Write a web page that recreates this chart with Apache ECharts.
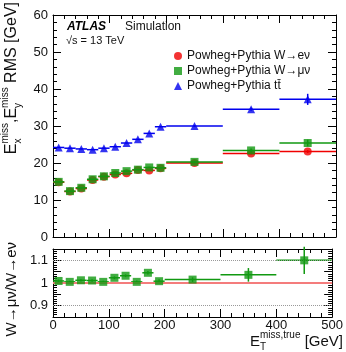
<!DOCTYPE html>
<html>
<head>
<meta charset="utf-8">
<script src="https://cdn.jsdelivr.net/npm/echarts@6/dist/echarts.min.js"></script>
<style>
html, body { margin: 0; padding: 0; background: #fff; }
#chart { width: 346px; height: 352px; }
</style>
</head>
<body>
<div id="chart"></div>
<script>
// bins in E_T^miss,true [GeV]
const binLow = [0, 20, 40, 60, 80, 100, 120, 140, 160, 180, 200, 300, 400];
const binHigh = [20, 40, 60, 80, 100, 120, 140, 160, 180, 200, 300, 400, 500];
const binCenter = [10, 30, 50, 70, 90, 110, 130, 150, 170, 190, 250, 350, 450];

// RMS values [GeV]
const rmsWenu = [14.8, 12.3, 13.1, 15.4, 16.3, 16.9, 17.2, 18.1, 18.0, 18.55, 20.0, 22.6, 23.1];
const errWenu = [0.1, 0.1, 0.1, 0.1, 0.1, 0.1, 0.1, 0.1, 0.15, 0.15, 0.15, 0.3, 0.4];
const rmsWmunu = [14.9, 12.4, 13.3, 15.6, 16.4, 17.3, 17.8, 18.2, 18.8, 18.7, 20.3, 23.4, 25.4];
const errWmunu = [0.1, 0.1, 0.1, 0.1, 0.1, 0.1, 0.1, 0.1, 0.15, 0.15, 0.2, 0.5, 0.9];
const rmsTtbar = [24.2, 24.0, 23.8, 23.6, 24.0, 24.4, 25.4, 26.4, 28.0, 29.8, 30.0, 34.5, 37.2];
const errTtbar = [0.1, 0.1, 0.1, 0.1, 0.1, 0.1, 0.1, 0.1, 0.1, 0.1, 0.2, 0.4, 1.5];

// ratio W->munu / W->enu
const ratio = [1.009, 1.005, 1.012, 1.011, 1.005, 1.023, 1.032, 1.005, 1.045, 1.008, 1.015, 1.036, 1.100];
const ratioErr = [0.006, 0.005, 0.005, 0.005, 0.005, 0.006, 0.006, 0.006, 0.008, 0.008, 0.01, 0.03, 0.06];

// axes
const xTicks = [0, 100, 200, 300, 400, 500];
const yTicks = [0, 10, 20, 30, 40, 50, 60];
const ratioTicks = [0.9, 1, 1.1];

const names = ['Powheg+Pythia W\u2192e\u03bd', 'Powheg+Pythia W\u2192\u03bc\u03bd', 'Powheg+Pythia t\u0074\u0304'];
const RED = '#f00000', GREEN = '#119911', BLUE = '#0000ee';
const FONT = '"Liberation Sans", Arial, Helvetica, sans-serif';

const chart = echarts.init(document.getElementById('chart'));

const measure = document.createElement('canvas').getContext('2d');
function textW(s, size, weight) {
  measure.font = (weight || 'normal') + ' ' + size + 'px ' + FONT;
  return measure.measureText(s).width;
}

function errRows(vals, errs) {
  return vals.map((v, i) => [binLow[i], binHigh[i], v, binCenter[i], errs[i]]);
}

function errRender(color, width) {
  return function (params, api) {
    const a = api.coord([api.value(0), api.value(2)]);
    const b = api.coord([api.value(1), api.value(2)]);
    const c = api.coord([api.value(3), api.value(2) - api.value(4)]);
    const d = api.coord([api.value(3), api.value(2) + api.value(4)]);
    return {
      type: 'group',
      children: [
        { type: 'line', shape: { x1: a[0], y1: a[1], x2: b[0], y2: b[1] }, style: { stroke: color, lineWidth: width } },
        { type: 'line', shape: { x1: c[0], y1: c[1], x2: d[0], y2: d[1] }, style: { stroke: color, lineWidth: width } }
      ]
    };
  };
}

function pts(vals) {
  return vals.map((v, i) => [binCenter[i], v]);
}

function xAxisDef(grid, pos, labels) {
  return {
    type: 'value', gridIndex: grid, position: pos, min: 0, max: 500, interval: 100,
    axisLine: { show: true, onZero: false, lineStyle: { color: '#000', width: 1 } },
    axisTick: { show: true, inside: true, length: 8, lineStyle: { color: '#000' } },
    minorTick: { show: true, splitNumber: 5, length: 4, lineStyle: { color: '#000' } },
    axisLabel: { show: labels, color: '#111', fontSize: 13, fontFamily: FONT, margin: 2,
      customValues: xTicks },
    splitLine: { show: false }
  };
}

function yAxisDef(grid, pos, labels, min, max, interval, minorSplit, tickVals) {
  return {
    type: 'value', gridIndex: grid, position: pos, min: min, max: max, interval: interval,
    axisLine: { show: true, onZero: false, lineStyle: { color: '#000', width: 1 } },
    axisTick: { show: true, inside: true, length: 8, lineStyle: { color: '#000' } },
    minorTick: { show: true, splitNumber: minorSplit, length: 4, lineStyle: { color: '#000' } },
    axisLabel: { show: labels, color: '#111', fontSize: 13, fontFamily: FONT, margin: 5,
      customValues: tickVals },
    splitLine: { show: false }
  };
}

// rotated / super- and subscripted titles
function scriptedTitle(parts, size, small) {
  let total = 0;
  parts.forEach(p => {
    p.w = p.sup !== undefined ? Math.max(textW(p.sup, small), textW(p.sub, small)) : textW(p.t, size);
    total += p.w;
  });
  const els = [];
  let x = -total;
  parts.forEach(p => {
    if (p.sup !== undefined) {
      els.push({ type: 'text', x: x, y: -size * 0.42, style: { text: p.sup, fontSize: small, fontFamily: FONT, fill: '#111', align: 'left', verticalAlign: 'middle', textAlign: 'left', textVerticalAlign: 'middle' } });
      els.push({ type: 'text', x: x, y: size * 0.38, style: { text: p.sub, fontSize: small, fontFamily: FONT, fill: '#111', align: 'left', verticalAlign: 'middle', textAlign: 'left', textVerticalAlign: 'middle' } });
    } else {
      els.push({ type: 'text', x: x, y: 0, style: { text: p.t, fontSize: size, fontFamily: FONT, fill: '#111', align: 'left', verticalAlign: 'middle', textAlign: 'left', textVerticalAlign: 'middle' } });
    }
    x += p.w;
  });
  return els;
}

const yTitle = scriptedTitle([
  { t: 'E' }, { sup: 'miss', sub: 'x' }, { t: ',' }, { t: 'E' }, { sup: 'miss', sub: 'y' }, { t: ' RMS [GeV]' }
], 16, 10);
const xTitle = scriptedTitle([
  { t: 'E' }, { sup: 'miss,true', sub: 'T' }, { t: ' [GeV]' }
], 15, 10);

const option = {
  animation: false,
  backgroundColor: '#fff',
  textStyle: { fontFamily: FONT },
  grid: [
    { left: 53, right: 10, top: 15, height: 222 },
    { left: 53, right: 10, top: 249, height: 68 }
  ],
  xAxis: [
    xAxisDef(0, 'bottom', false),
    xAxisDef(0, 'top', false),
    xAxisDef(1, 'bottom', true),
    xAxisDef(1, 'top', false)
  ],
  yAxis: [
    yAxisDef(0, 'left', true, 0, 60, 10, 5, yTicks),
    yAxisDef(0, 'right', false, 0, 60, 10, 5, yTicks),
    yAxisDef(1, 'left', true, 0.85, 1.15, 0.05, 5, ratioTicks),
    yAxisDef(1, 'right', false, 0.85, 1.15, 0.05, 5, ratioTicks)
  ],
  legend: {
    orient: 'vertical', left: 169, top: 45, itemGap: 3, itemWidth: 8, itemHeight: 8,
    textStyle: { fontSize: 12, color: '#111', fontFamily: FONT },
    data: [
      { name: names[0], icon: 'circle' },
      { name: names[1], icon: 'rect' },
      { name: names[2], icon: 'triangle' }
    ]
  },
  graphic: [
    { type: 'text', left: 67, top: 21, style: { text: 'ATLAS', fontSize: 12, fontWeight: 'bold', fontStyle: 'italic', fontFamily: FONT, fill: '#000' } },
    { type: 'text', left: 125, top: 21, style: { text: 'Simulation', fontSize: 12, fontFamily: FONT, fill: '#111' } },
    { type: 'text', left: 66, top: 35, style: { text: '\u221as = 13 TeV', fontSize: 11, fontFamily: FONT, fill: '#111' } },
    { type: 'group', x: 12, y: 2, rotation: Math.PI / 2, children: yTitle },
    { type: 'group', x: 12, y: 242, rotation: Math.PI / 2, children: [
      { type: 'text', x: 0, y: 0, style: { text: 'W\u2192\u03bc\u03bd/W\u2192e\u03bd', fontSize: 15, fontFamily: FONT, fill: '#111', align: 'right', verticalAlign: 'middle', textAlign: 'right', textVerticalAlign: 'middle' } }
    ] },
    { type: 'group', x: 343, y: 342, children: xTitle }
  ],
  series: [
    { type: 'custom', name: 'errWenu', xAxisIndex: 0, yAxisIndex: 0, renderItem: errRender(RED, 1.5), data: errRows(rmsWenu, errWenu), encode: { x: 3, y: 2 }, z: 2 },
    { type: 'scatter', name: names[0], xAxisIndex: 0, yAxisIndex: 0, symbol: 'circle', symbolSize: 8, itemStyle: { color: RED }, data: pts(rmsWenu), z: 3 },
    { type: 'custom', name: 'errWmunu', xAxisIndex: 0, yAxisIndex: 0, renderItem: errRender(GREEN, 1.5), data: errRows(rmsWmunu, errWmunu), encode: { x: 3, y: 2 }, z: 4 },
    { type: 'scatter', name: names[1], xAxisIndex: 0, yAxisIndex: 0, symbol: 'rect', symbolSize: 8, itemStyle: { color: GREEN }, data: pts(rmsWmunu), z: 5 },
    { type: 'custom', name: 'errTtbar', xAxisIndex: 0, yAxisIndex: 0, renderItem: errRender(BLUE, 1.5), data: errRows(rmsTtbar, errTtbar), encode: { x: 3, y: 2 }, z: 6 },
    { type: 'scatter', name: names[2], xAxisIndex: 0, yAxisIndex: 0, symbol: 'triangle', symbolSize: 8, itemStyle: { color: BLUE }, data: pts(rmsTtbar), z: 7 },
    {
      type: 'custom', name: 'ratioErr', xAxisIndex: 2, yAxisIndex: 2, renderItem: errRender(GREEN, 1.5),
      data: errRows(ratio, ratioErr), encode: { x: 3, y: 2 }, z: 4,
      markLine: {
        silent: true, symbol: 'none', label: { show: false },
        data: ratioTicks.map(v => ({
          yAxis: v,
          lineStyle: v === 1 ? { color: '#f47c7c', width: 2, type: 'solid' } : { color: '#999', width: 1, type: 'dotted' }
        }))
      }
    },
    { type: 'scatter', name: 'ratio', xAxisIndex: 2, yAxisIndex: 2, symbol: 'rect', symbolSize: 8, itemStyle: { color: GREEN }, data: pts(ratio), z: 5 }
  ]
};

chart.setOption(option);
</script>
</body>
</html>
